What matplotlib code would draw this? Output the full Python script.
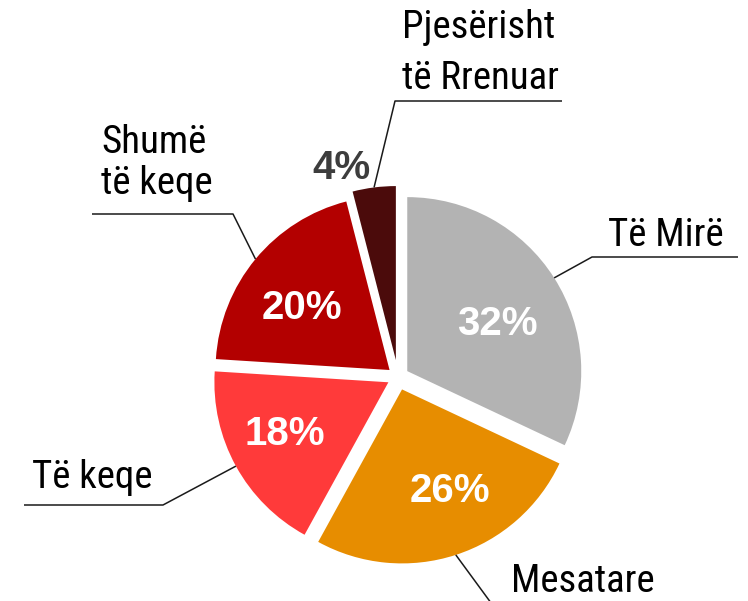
"""Pie chart of building condition categories (Albanian labels), exploded slices."""

import matplotlib

matplotlib.use("Agg")
import matplotlib.pyplot as plt
import numpy as np
from matplotlib import font_manager

# --- data ---
categories = ["Të Mirë", "Mesatare", "Të keqe", "Shumë\ntë keqe", "Pjesërisht\ntë Rrenuar"]
shares = [32, 26, 18, 20, 4]
colors = ["#b3b3b3", "#e78d00", "#ff3a3a", "#b30000", "#4b0b0b"]
pct_colors = ["white", "white", "white", "white", "#3d3d3d"]
explode = [0.063, 0.075, 0.063, 0.063, 0.098]

# --- layout (pixel geometry of the 748x601 canvas) ---
W, H = 748, 601
CX, CY, R = 398, 377, 174  # pie centre and radius in pixels


def px(x, y):
    """pixel coordinates -> data coordinates (pie radius = 1)."""
    return (x - CX) / R, (CY - y) / R


installed = {f.name for f in font_manager.fontManager.ttflist}


def pick(cands):
    for c in cands:
        if c in installed:
            return c
    return "DejaVu Sans"


NARROW = pick(["Roboto Condensed", "Abel", "Liberation Sans Narrow", "Archivo Narrow", "Roboto"])
BOLD = pick(["Liberation Sans", "Arimo", "DejaVu Sans"])

fig = plt.figure(figsize=(W / 100, H / 100), dpi=100)
ax = fig.add_axes([0, 0, 1, 1])

wedges, _, autotexts = ax.pie(
    shares, colors=colors, startangle=90, counterclock=False,
    explode=explode, radius=1, center=(0, 0),
    autopct="%d%%", pctdistance=0.6,
    wedgeprops=dict(linewidth=0),
    textprops=dict(fontsize=29, fontweight="bold", family=BOLD),
)
ax.set_xlim(-CX / R, (W - CX) / R)
ax.set_ylim(-(H - CY) / R, CY / R)
ax.set_aspect("equal")
ax.axis("off")

# percentage label centres (pixels); the 4% one sits outside its slice
pct_pos = [(497, 324), (450, 491), (285, 434), (302, 308), (341, 168)]
for t, c, p in zip(autotexts, pct_colors, pct_pos):
    t.set_color(c)
    t.set_position(px(*p))

# leader lines: start on the arc at each wedge's mid-angle, then elbow -> end (pixels)
elbows = [
    [(592, 257), (738, 257)],
    [(505, 622), (650, 622)],
    [(163, 505), (24, 505)],
    [(233, 214), (92, 214)],
    [(395, 101), (562, 101)],
]
for w, pts in zip(wedges, elbows):
    ang = np.deg2rad((w.theta1 + w.theta2) / 2)
    cx, cy = w.center
    x0, y0 = cx + w.r * np.cos(ang), cy + w.r * np.sin(ang)
    xs = [x0] + [px(*p)[0] for p in pts]
    ys = [y0] + [px(*p)[1] for p in pts]
    ax.plot(xs, ys, color="#1a1a1a", lw=1.1, solid_capstyle="butt")

# category labels, one text per line (pixel anchor, alignment)
label_lines = [
    ("Të Mirë", (666, 246), "center"),
    ("Mesatare", (583, 592), "center"),
    ("Të keqe", (92, 488), "center"),
    ("Shumë", (101, 153), "left"),
    ("të keqe", (101, 194), "left"),
    ("Pjesërisht", (402, 38), "left"),
    ("të Rrenuar", (402, 89), "left"),
]
for txt, pos, ha in label_lines:
    ax.text(*px(*pos), txt, ha=ha, va="baseline", fontsize=28,
            family=NARROW, color="black")

fig.savefig("out.png", dpi=100)
